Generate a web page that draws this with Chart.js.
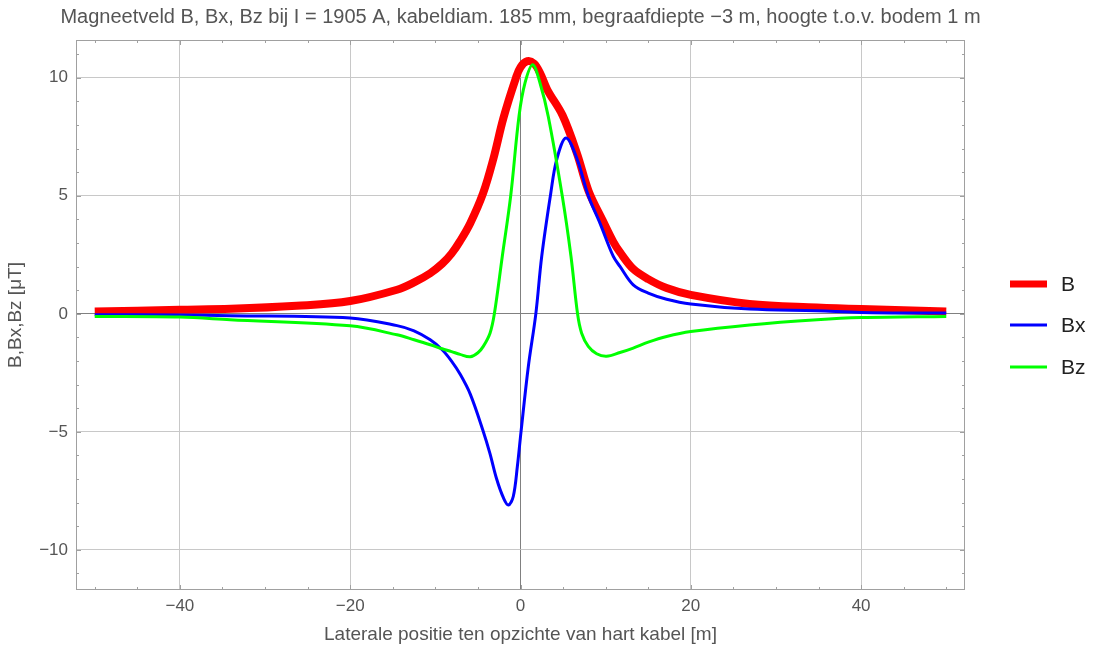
<!DOCTYPE html>
<html lang="nl">
<head>
  <meta charset="UTF-8" />
  <title>Magneetveld B, Bx, Bz</title>
  <script src="https://cdn.jsdelivr.net/npm/chart.js"></script>
  <style>
    body {
      margin: 0;
      padding: 0;
      background: #ffffff;
    }
    #wrap {
      width: 1094px;
      height: 648px;
    }
  </style>
</head>
<body>
  <div id="wrap"><canvas id="fieldChart" width="1094" height="648"></canvas></div>

  <script>
    // B (total field)
    const bX = [-50, -40, -34, -26.3, -20, -14.5, -12.5, -10.6, -9.2, -8.1, -7.1, -5.9, -4.4, -3.2, -2.0, -0.53, 0, 0.8, 1.6, 2.3, 3.15, 4.95, 6.67, 8.0, 9.7, 10.9, 11.7, 13.24, 15, 17.16, 20, 26.9, 34.8, 40, 50];
    const bY = [0.10, 0.17, 0.21, 0.34, 0.54, 1.02, 1.33, 1.72, 2.12, 2.55, 3.08, 3.84, 5.10, 6.55, 8.30, 10.0, 10.45, 10.7, 10.6, 10.2, 9.49, 8.4, 6.75, 5.2, 3.92, 3.05, 2.6, 1.9, 1.47, 1.09, 0.80, 0.42, 0.27, 0.20, 0.10];

    // Bx
    const bxX = [-50, -40, -34.1, -20, -14.5, -12.5, -10.6, -9.2, -8.1, -7.1, -5.9, -4.4, -3.6, -2.8, -2.0, -1.43, -0.85, -0.37, 0.06, 0.92, 1.8, 2.49, 3.55, 4.25, 5.34, 6.6, 7.96, 9.33, 10.9, 11.7, 13.24, 15, 17.16, 20, 26.9, 34.8, 40, 50];
    const bxY = [-0.04, -0.05, -0.08, -0.18, -0.50, -0.72, -1.1, -1.52, -2.0, -2.55, -3.4, -4.95, -5.9, -7.0, -7.8, -8.1, -7.74, -6.47, -5.0, -2.23, 0, 2.43, 5.1, 6.53, 7.45, 6.6, 5.0, 3.84, 2.43, 2.0, 1.23, 0.88, 0.62, 0.42, 0.20, 0.13, 0.06, 0.03];

    // Bz
    const bzX = [-50, -40, -34.1, -20, -14.5, -12.5, -10.6, -9.2, -8.1, -7.1, -5.9, -5.0, -4.37, -3.58, -3.07, -2.14, -1.15, -0.18, 0.53, 1.43, 2.29, 3.26, 4.9, 5.93, 6.7, 7.18, 7.96, 8.94, 10.1, 11.68, 13.24, 15, 17.16, 20, 26.9, 34.8, 40, 50];
    const bzY = [-0.11, -0.14, -0.25, -0.51, -0.89, -1.1, -1.31, -1.48, -1.6, -1.72, -1.82, -1.65, -1.38, -0.82, 0, 2.43, 5.0, 8.36, 9.78, 10.55, 9.78, 8.36, 5.0, 2.43, 0, -0.82, -1.38, -1.69, -1.80, -1.64, -1.45, -1.2, -0.96, -0.75, -0.47, -0.25, -0.16, -0.11];

    const xTicks = [-40, -20, 0, 20, 40];
    const yTicks = [-10, -5, 0, 5, 10];

    const seriesNames = ['B', 'Bx', 'Bz'];
    const seriesColors = ['#ff0000', '#0000ff', '#00ff00'];
    const seriesWidths = [8, 3, 3];

    const titleText = 'Magneetveld B, Bx, Bz bij I = 1905 A, kabeldiam. 185 mm, begraafdiepte \u22123 m, hoogte t.o.v. bodem 1 m';
    const FONT = '"Liberation Sans", Arial, sans-serif';

    function toPoints(xs, ys) {
      return xs.map((x, i) => ({ x: x, y: ys[i] }));
    }

    function minus(v) {
      return v < 0 ? '\u2212' + Math.abs(v) : String(v);
    }

    // frame with small inward ticks + title centred over the plot area
    const framePlugin = {
      id: 'frame',
      afterDraw(chart) {
        const ctx = chart.ctx;
        const a = chart.chartArea;
        const xs = chart.scales.x;
        const ys = chart.scales.y;
        ctx.save();
        ctx.strokeStyle = '#a0a0a0';
        ctx.lineWidth = 1;
        ctx.strokeRect(a.left + 0.5, a.top + 0.5, a.right - a.left - 1, a.bottom - a.top - 1);

        ctx.beginPath();
        for (let v = -50; v <= 50; v += 5) {
          const px = Math.round(xs.getPixelForValue(v)) + 0.5;
          const len = v % 20 === 0 ? 5 : 3;
          ctx.moveTo(px, a.bottom); ctx.lineTo(px, a.bottom - len);
          ctx.moveTo(px, a.top); ctx.lineTo(px, a.top + len);
        }
        for (let v = -11; v <= 11; v += 1) {
          const py = Math.round(ys.getPixelForValue(v)) + 0.5;
          const len = v % 5 === 0 ? 5 : 3;
          ctx.moveTo(a.left, py); ctx.lineTo(a.left + len, py);
          ctx.moveTo(a.right, py); ctx.lineTo(a.right - len, py);
        }
        ctx.stroke();

        ctx.fillStyle = '#555';
        ctx.font = '20px ' + FONT;
        ctx.textAlign = 'center';
        ctx.textBaseline = 'alphabetic';
        ctx.fillText(titleText, (a.left + a.right) / 2, 23);
        ctx.restore();
      }
    };

    // legend on the right: line sample + name
    const legendPlugin = {
      id: 'sideLegend',
      afterDraw(chart) {
        const ctx = chart.ctx;
        const rows = [284, 325, 367];
        ctx.save();
        chart.data.datasets.forEach((ds, i) => {
          const y = rows[i];
          ctx.strokeStyle = ds.borderColor;
          ctx.lineWidth = i === 0 ? 7 : 3;
          ctx.beginPath();
          ctx.moveTo(1010, y);
          ctx.lineTo(1047, y);
          ctx.stroke();
          ctx.fillStyle = '#222';
          ctx.font = '21px ' + FONT;
          ctx.textBaseline = 'middle';
          ctx.fillText(ds.label, 1061, y + 1);
        });
        ctx.restore();
      }
    };

    const xsList = [bX, bxX, bzX];
    const ysList = [bY, bxY, bzY];

    new Chart(document.getElementById('fieldChart'), {
      type: 'line',
      data: {
        datasets: seriesNames.map((name, i) => ({
          label: name,
          data: toPoints(xsList[i], ysList[i]),
          borderColor: seriesColors[i],
          backgroundColor: seriesColors[i],
          borderWidth: seriesWidths[i],
          pointRadius: 0,
          tension: 0.35,
          fill: false,
          order: 3 - i
        }))
      },
      options: {
        responsive: false,
        animation: false,
        layout: { padding: { left: 0, right: 129, top: 40, bottom: 0 } },
        plugins: {
          legend: { display: false },
          tooltip: { enabled: false },
          title: { display: false }
        },
        scales: {
          x: {
            type: 'linear',
            min: -52.2,
            max: 52.2,
            afterBuildTicks: s => { s.ticks = xTicks.map(v => ({ value: v })); },
            afterFit: s => { s.height = 58; },
            ticks: {
              color: '#555',
              padding: 6,
              font: { family: FONT, size: 17 },
              callback: v => minus(v)
            },
            grid: {
              drawTicks: false,
              color: c => c.tick && c.tick.value === 0 ? '#808080' : '#c8c8c8',
              lineWidth: 1
            },
            border: { display: false },
            title: {
              display: true,
              text: 'Laterale positie ten opzichte van hart kabel [m]',
              color: '#555',
              font: { family: FONT, size: 19 },
              padding: { top: 0, bottom: 2 }
            }
          },
          y: {
            type: 'linear',
            min: -11.7,
            max: 11.6,
            afterBuildTicks: s => { s.ticks = yTicks.map(v => ({ value: v })); },
            afterFit: s => { s.width = 76; },
            ticks: {
              color: '#555',
              padding: 8,
              font: { family: FONT, size: 17 },
              callback: v => minus(v)
            },
            grid: {
              drawTicks: false,
              color: c => c.tick && c.tick.value === 0 ? '#808080' : '#c8c8c8',
              lineWidth: 1
            },
            border: { display: false },
            title: {
              display: true,
              text: 'B,Bx,Bz [\u03bcT]',
              color: '#555',
              font: { family: FONT, size: 19 },
              padding: { top: 4, bottom: 0 }
            }
          }
        }
      },
      plugins: [framePlugin, legendPlugin]
    });
  </script>
</body>
</html>
